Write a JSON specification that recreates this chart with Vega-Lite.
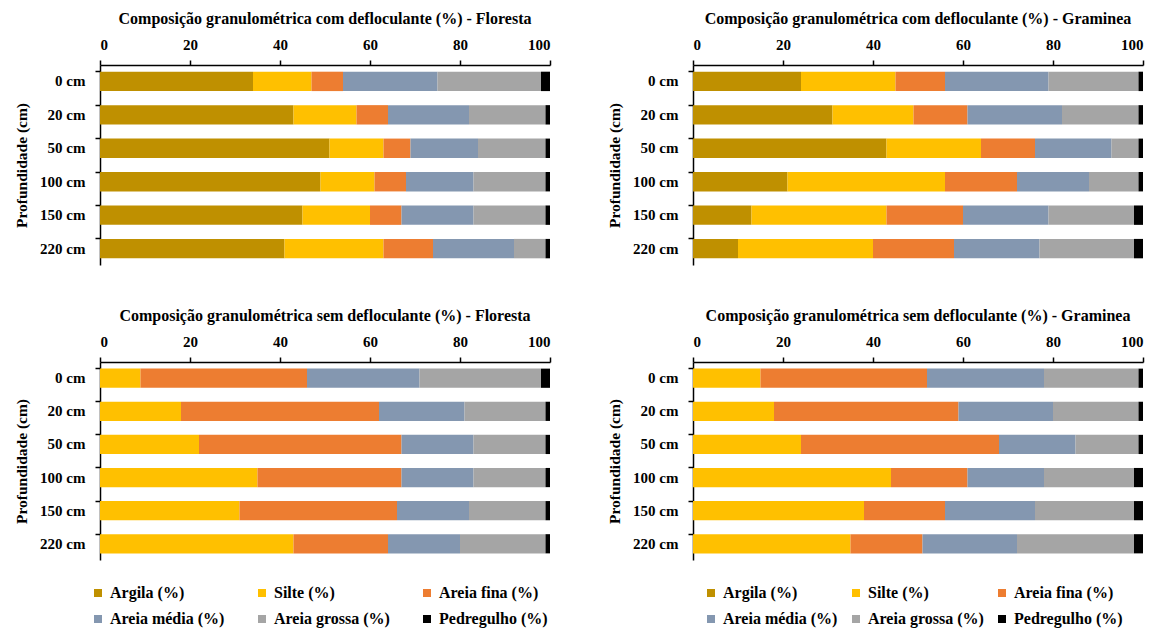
{
  "$schema": "https://vega.github.io/schema/vega-lite/v6.json",
  "background": "white",
  "padding": {"left": 14, "top": 11, "right": 5, "bottom": 5},
  "datasets": {
    "fracoes": [
      {"key": "argila", "nome": "Argila (%)", "n": 1},
      {"key": "silte", "nome": "Silte (%)", "n": 2},
      {"key": "fina", "nome": "Areia fina (%)", "n": 3},
      {"key": "media", "nome": "Areia média (%)", "n": 4},
      {"key": "grossa", "nome": "Areia grossa (%)", "n": 5},
      {"key": "pedregulho", "nome": "Pedregulho (%)", "n": 6}
    ]
  },
  "data": {"values": [
    {"painel": "FC", "prof": "0 cm", "argila": 34, "silte": 13, "fina": 7, "media": 21, "grossa": 23, "pedregulho": 2},
    {"painel": "FC", "prof": "20 cm", "argila": 43, "silte": 14, "fina": 7, "media": 18, "grossa": 17, "pedregulho": 1},
    {"painel": "FC", "prof": "50 cm", "argila": 51, "silte": 12, "fina": 6, "media": 15, "grossa": 15, "pedregulho": 1},
    {"painel": "FC", "prof": "100 cm", "argila": 49, "silte": 12, "fina": 7, "media": 15, "grossa": 16, "pedregulho": 1},
    {"painel": "FC", "prof": "150 cm", "argila": 45, "silte": 15, "fina": 7, "media": 16, "grossa": 16, "pedregulho": 1},
    {"painel": "FC", "prof": "220 cm", "argila": 41, "silte": 22, "fina": 11, "media": 18, "grossa": 7, "pedregulho": 1},
    {"painel": "GC", "prof": "0 cm", "argila": 24, "silte": 21, "fina": 11, "media": 23, "grossa": 20, "pedregulho": 1},
    {"painel": "GC", "prof": "20 cm", "argila": 31, "silte": 18, "fina": 12, "media": 21, "grossa": 17, "pedregulho": 1},
    {"painel": "GC", "prof": "50 cm", "argila": 43, "silte": 21, "fina": 12, "media": 17, "grossa": 6, "pedregulho": 1},
    {"painel": "GC", "prof": "100 cm", "argila": 21, "silte": 35, "fina": 16, "media": 16, "grossa": 11, "pedregulho": 1},
    {"painel": "GC", "prof": "150 cm", "argila": 13, "silte": 30, "fina": 17, "media": 19, "grossa": 19, "pedregulho": 2},
    {"painel": "GC", "prof": "220 cm", "argila": 10, "silte": 30, "fina": 18, "media": 19, "grossa": 21, "pedregulho": 2},
    {"painel": "FS", "prof": "0 cm", "argila": 0, "silte": 9, "fina": 37, "media": 25, "grossa": 27, "pedregulho": 2},
    {"painel": "FS", "prof": "20 cm", "argila": 0, "silte": 18, "fina": 44, "media": 19, "grossa": 18, "pedregulho": 1},
    {"painel": "FS", "prof": "50 cm", "argila": 0, "silte": 22, "fina": 45, "media": 16, "grossa": 16, "pedregulho": 1},
    {"painel": "FS", "prof": "100 cm", "argila": 0, "silte": 35, "fina": 32, "media": 16, "grossa": 16, "pedregulho": 1},
    {"painel": "FS", "prof": "150 cm", "argila": 0, "silte": 31, "fina": 35, "media": 16, "grossa": 17, "pedregulho": 1},
    {"painel": "FS", "prof": "220 cm", "argila": 0, "silte": 43, "fina": 21, "media": 16, "grossa": 19, "pedregulho": 1},
    {"painel": "GS", "prof": "0 cm", "argila": 0, "silte": 15, "fina": 37, "media": 26, "grossa": 21, "pedregulho": 1},
    {"painel": "GS", "prof": "20 cm", "argila": 0, "silte": 18, "fina": 41, "media": 21, "grossa": 19, "pedregulho": 1},
    {"painel": "GS", "prof": "50 cm", "argila": 0, "silte": 24, "fina": 44, "media": 17, "grossa": 14, "pedregulho": 1},
    {"painel": "GS", "prof": "100 cm", "argila": 0, "silte": 44, "fina": 17, "media": 17, "grossa": 20, "pedregulho": 2},
    {"painel": "GS", "prof": "150 cm", "argila": 0, "silte": 38, "fina": 18, "media": 20, "grossa": 22, "pedregulho": 2},
    {"painel": "GS", "prof": "220 cm", "argila": 0, "silte": 35, "fina": 16, "media": 21, "grossa": 26, "pedregulho": 2}
  ]},
  "transform": [
    {"fold": ["argila", "silte", "fina", "media", "grossa", "pedregulho"], "as": ["key", "valor"]},
    {"lookup": "key", "from": {"data": {"name": "fracoes"}, "key": "key", "fields": ["nome", "n"]}}
  ],
  "columns": 2,
  "spacing": {"row": 43, "column": 56},
  "resolve": {"legend": {"color": "independent"}},
  "concat": [
    {
      "width": 450, "height": 200,
      "title": {"text": "Composição granulométrica  com defloculante (%) - Floresta"},
      "transform": [{"filter": "datum.painel === 'FC'"}],
      "mark": {"type": "bar"},
      "encoding": {
        "y": {"field": "prof", "type": "nominal", "sort": ["0 cm", "20 cm", "50 cm", "100 cm", "150 cm", "220 cm"], "scale": {"paddingInner": 0.42, "paddingOuter": 0.2}, "axis": {"title": "Profundidade  (cm)", "bandPosition": 0}},
        "x": {"field": "valor", "type": "quantitative", "stack": "zero", "scale": {"domain": [0, 100], "nice": false}, "axis": {"orient": "top", "values": [0, 20, 40, 60, 80, 100], "title": null}},
        "color": {"field": "nome", "type": "nominal", "scale": {"domain": ["Argila (%)", "Silte (%)", "Areia fina (%)", "Areia média (%)", "Areia grossa (%)", "Pedregulho (%)"], "range": ["#BF9000", "#FFC000", "#ED7D31", "#8497B0", "#A5A5A5", "#000000"]}, "legend": null},
        "order": {"field": "n", "type": "quantitative"}
      }
    },
    {
      "width": 450, "height": 200,
      "title": {"text": "Composição granulométrica  com defloculante (%) - Graminea"},
      "transform": [{"filter": "datum.painel === 'GC'"}],
      "mark": {"type": "bar"},
      "encoding": {
        "y": {"field": "prof", "type": "nominal", "sort": ["0 cm", "20 cm", "50 cm", "100 cm", "150 cm", "220 cm"], "scale": {"paddingInner": 0.42, "paddingOuter": 0.2}, "axis": {"title": "Profundidade (cm)", "bandPosition": 0}},
        "x": {"field": "valor", "type": "quantitative", "stack": "zero", "scale": {"domain": [0, 100], "nice": false}, "axis": {"orient": "top", "values": [0, 20, 40, 60, 80, 100], "title": null}},
        "color": {"field": "nome", "type": "nominal", "scale": {"domain": ["Argila (%)", "Silte (%)", "Areia fina (%)", "Areia média (%)", "Areia grossa (%)", "Pedregulho (%)"], "range": ["#BF9000", "#FFC000", "#ED7D31", "#8497B0", "#A5A5A5", "#000000"]}, "legend": null},
        "order": {"field": "n", "type": "quantitative"}
      }
    },
    {
      "width": 450, "height": 198,
      "title": {"text": "Composição granulométrica  sem defloculante (%) - Floresta"},
      "transform": [{"filter": "datum.painel === 'FS'"}],
      "mark": {"type": "bar"},
      "encoding": {
        "y": {"field": "prof", "type": "nominal", "sort": ["0 cm", "20 cm", "50 cm", "100 cm", "150 cm", "220 cm"], "scale": {"paddingInner": 0.42, "paddingOuter": 0.2}, "axis": {"title": "Profundidade  (cm)", "bandPosition": 0}},
        "x": {"field": "valor", "type": "quantitative", "stack": "zero", "scale": {"domain": [0, 100], "nice": false}, "axis": {"orient": "top", "values": [0, 20, 40, 60, 80, 100], "title": null}},
        "color": {"field": "nome", "type": "nominal", "scale": {"domain": ["Argila (%)", "Silte (%)", "Areia fina (%)", "Areia média (%)", "Areia grossa (%)", "Pedregulho (%)"], "range": ["#BF9000", "#FFC000", "#ED7D31", "#8497B0", "#A5A5A5", "#000000"]},
          "legend": {"orient": "none", "legendX": -10, "legendY": 223, "direction": "horizontal", "columns": 3, "title": null, "columnPadding": 29, "rowPadding": 10}},
        "order": {"field": "n", "type": "quantitative"}
      }
    },
    {
      "width": 450, "height": 198,
      "title": {"text": "Composição granulométrica  sem defloculante (%) - Graminea"},
      "transform": [{"filter": "datum.painel === 'GS'"}],
      "mark": {"type": "bar"},
      "encoding": {
        "y": {"field": "prof", "type": "nominal", "sort": ["0 cm", "20 cm", "50 cm", "100 cm", "150 cm", "220 cm"], "scale": {"paddingInner": 0.42, "paddingOuter": 0.2}, "axis": {"title": "Profundidade (cm)", "bandPosition": 0}},
        "x": {"field": "valor", "type": "quantitative", "stack": "zero", "scale": {"domain": [0, 100], "nice": false}, "axis": {"orient": "top", "values": [0, 20, 40, 60, 80, 100], "title": null}},
        "color": {"field": "nome", "type": "nominal", "scale": {"domain": ["Argila (%)", "Silte (%)", "Areia fina (%)", "Areia média (%)", "Areia grossa (%)", "Pedregulho (%)"], "range": ["#BF9000", "#FFC000", "#ED7D31", "#8497B0", "#A5A5A5", "#000000"]},
          "legend": {"orient": "none", "legendX": 10, "legendY": 223, "direction": "horizontal", "columns": 3, "title": null, "columnPadding": 10, "rowPadding": 10}},
        "order": {"field": "n", "type": "quantitative"}
      }
    }
  ],
  "config": {
    "view": {"stroke": null},
    "font": "Liberation Serif",
    "title": {"font": "Liberation Serif", "fontSize": 16, "fontWeight": "bold", "color": "#000", "offset": 10},
    "axis": {
      "grid": false,
      "labelFont": "Liberation Serif", "labelFontWeight": "bold", "labelFontSize": 15, "labelColor": "#000",
      "titleFont": "Liberation Serif", "titleFontWeight": "bold", "titleFontSize": 15.5, "titleColor": "#000",
      "domainColor": "#000", "domainWidth": 1.5, "tickColor": "#000", "tickWidth": 1.5, "tickSize": 5
    },
    "axisY": {"labelPadding": 10, "titlePadding": 10},
    "axisX": {"labelPadding": 8},
    "legend": {
      "labelFont": "Liberation Serif", "labelFontWeight": "bold", "labelFontSize": 16, "labelColor": "#000",
      "symbolType": "square", "symbolSize": 64, "symbolStrokeWidth": 0, "labelOffset": 4
    }
  }
}
